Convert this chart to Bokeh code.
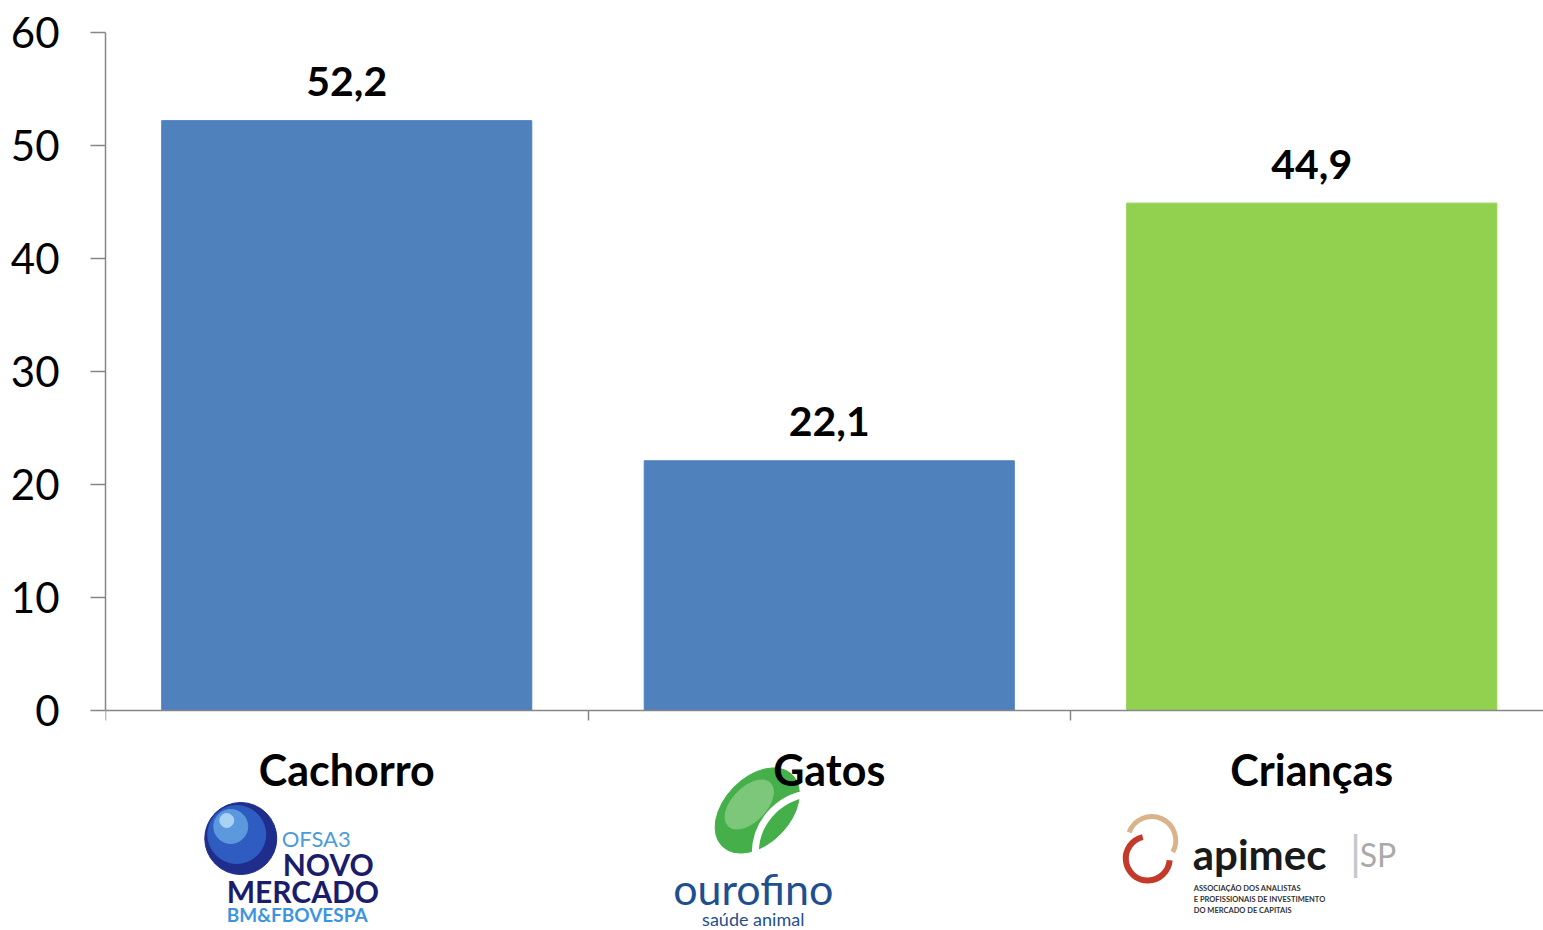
from bokeh.plotting import figure
from bokeh.models import FixedTicker, Range1d, ColumnDataSource
from bokeh.core.properties import value
from bokeh.embed import file_html
from bokeh.resources import INLINE

# ---- data ----
categories = ["Cachorro", "Gatos", "Crianças"]
values = [52.2, 22.1, 44.9]
value_labels = ["52,2", "22,1", "44,9"]
bar_colors = ["#4F81BD", "#4F81BD", "#92D050"]
y_ticks = [0, 10, 20, 30, 40, 50, 60]

FONT = "Lato"
AXIS_COLOR = "#868686"

# pixel scale of the plot (used only for decorative logo placement)
PX_PER_X = 482.5
PX_PER_Y = 11.3
W, H = 1543, 930
LEFT, TOP = 105, 32


def dx(px):
    return px / PX_PER_X


def dy(px):
    return -px / PX_PER_Y


centers = [i + 0.5 for i in range(len(categories))]

p = figure(width=W, height=H, output_backend="svg", toolbar_location=None,
           x_range=Range1d(0, (W - LEFT) / PX_PER_X),
           y_range=Range1d(60 - (H - TOP) / PX_PER_Y, 60),
           min_border_left=LEFT, min_border_right=0, min_border_top=TOP, min_border_bottom=0)
p.outline_line_color = None
p.grid.grid_line_color = None
p.background_fill_color = "white"
p.border_fill_color = "white"

src = ColumnDataSource(dict(x=centers, top=values, color=bar_colors, label=value_labels))
p.vbar(x="x", top="top", bottom=0, width=0.767, color="color", source=src)
p.text(x="x", y="top", text="label", source=src, text_align="center",
       text_baseline="alphabetic", y_offset=-39, text_font=value(FONT),
       text_font_style="bold", text_font_size="41px", text_color="black")

# y axis
ya = p.yaxis[0]
ya.ticker = FixedTicker(ticks=y_ticks)
ya.bounds = (0, 60)
ya.axis_line_color = AXIS_COLOR
ya.axis_line_width = 1.5
ya.major_tick_line_color = AXIS_COLOR
ya.major_tick_line_width = 1.5
ya.major_tick_out = 15
ya.major_tick_in = 0
ya.minor_tick_line_color = None
ya.major_label_standoff = 31
ya.major_label_text_font = FONT
ya.major_label_text_font_size = "42px"
ya.major_label_text_color = "black"

# x axis at y = 0
xa = p.xaxis[0]
xa.fixed_location = 0
xa.ticker = FixedTicker(ticks=centers, minor_ticks=[0, 1, 2, 3])
xa.major_label_overrides = {c: n for c, n in zip(centers, categories)}
xa.axis_line_color = AXIS_COLOR
xa.axis_line_width = 1.5
xa.major_tick_line_color = None
xa.major_tick_out = 0
xa.major_tick_in = 0
xa.minor_tick_line_color = AXIS_COLOR
xa.minor_tick_line_width = 1.5
xa.minor_tick_out = 10
xa.minor_tick_in = 0
xa.major_label_standoff = 23
xa.major_label_text_font = FONT
xa.major_label_text_font_style = "bold"
xa.major_label_text_font_size = "43px"
xa.major_label_text_color = "black"

# ---- logos (decorative approximations) ----
c0, c1, c2 = centers


def txt(cx, ox, oy, t, size, color, style="normal", align="left"):
    p.text(x=[cx + dx(ox)], y=[dy(oy)], text=[t], text_align=align, text_baseline="middle",
           text_font=value(FONT), text_font_style=style, text_font_size=size, text_color=color)


# BM&FBOVESPA Novo Mercado
p.scatter(x=[c0 + dx(-106)], y=[dy(128)], size=72, marker="circle", color="#1F2E8C")
p.scatter(x=[c0 + dx(-110)], y=[dy(124)], size=58, marker="circle", color="#2F5CC0")
p.scatter(x=[c0 + dx(-116)], y=[dy(116)], size=34, marker="circle", color="#5C98DD")
p.scatter(x=[c0 + dx(-120)], y=[dy(110)], size=14, marker="circle", color="#A9D3F2")
txt(c0, -65, 128, "OFSA3", "22px", "#4B9CD8")
txt(c0, -64, 153, "NOVO", "30px", "#1A1D6B", "bold")
txt(c0, -120, 180, "MERCADO", "30px", "#1A1D6B", "bold")
txt(c0, -120, 204, "BM&FBOVESPA", "19px", "#3D95DE", "bold")

# Ourofino
p.ellipse(x=[c1 + dx(-72)], y=[dy(100)], width=100, height=66, angle=0.8,
          width_units="screen", height_units="screen", color="#45B04A")
p.ellipse(x=[c1 + dx(-80)], y=[dy(94)], width=60, height=34, angle=0.8,
          width_units="screen", height_units="screen", color="#7CC77A")
p.arc(x=[c1 + dx(-14)], y=[dy(143)], radius=60, radius_units="screen",
      start_angle=1.57, end_angle=3.14, line_color="white", line_width=7)
txt(c1, -76, 178, "ourofino", "43px", "#1F4F8F", align="center")
txt(c1, -76, 208, "saúde animal", "18px", "#1F4F8F", align="center")

# APIMEC SP
p.arc(x=[c2 + dx(-164)], y=[dy(148)], radius=22, radius_units="screen",
      start_angle=1.8, end_angle=6.2, line_color="#C43A2A", line_width=6)
p.arc(x=[c2 + dx(-160)], y=[dy(130)], radius=24, radius_units="screen",
      start_angle=-0.5, end_angle=2.8, line_color="#D9B48A", line_width=5)
txt(c2, -119, 143, "apimec", "42px", "#1A1A1A", "bold")
txt(c2, 38, 142, "|", "46px", "#C8C8C8")
txt(c2, 48, 144, "SP", "32px", "#AAAAAA")
txt(c2, -118, 178, "ASSOCIAÇÃO DOS ANALISTAS", "7.5px", "#333333", "bold")
txt(c2, -118, 189, "E PROFISSIONAIS DE INVESTIMENTO", "7.5px", "#333333", "bold")
txt(c2, -118, 200, "DO MERCADO DE CAPITAIS", "7.5px", "#333333", "bold")

open("out.html", "w").write(file_html(p, INLINE))
